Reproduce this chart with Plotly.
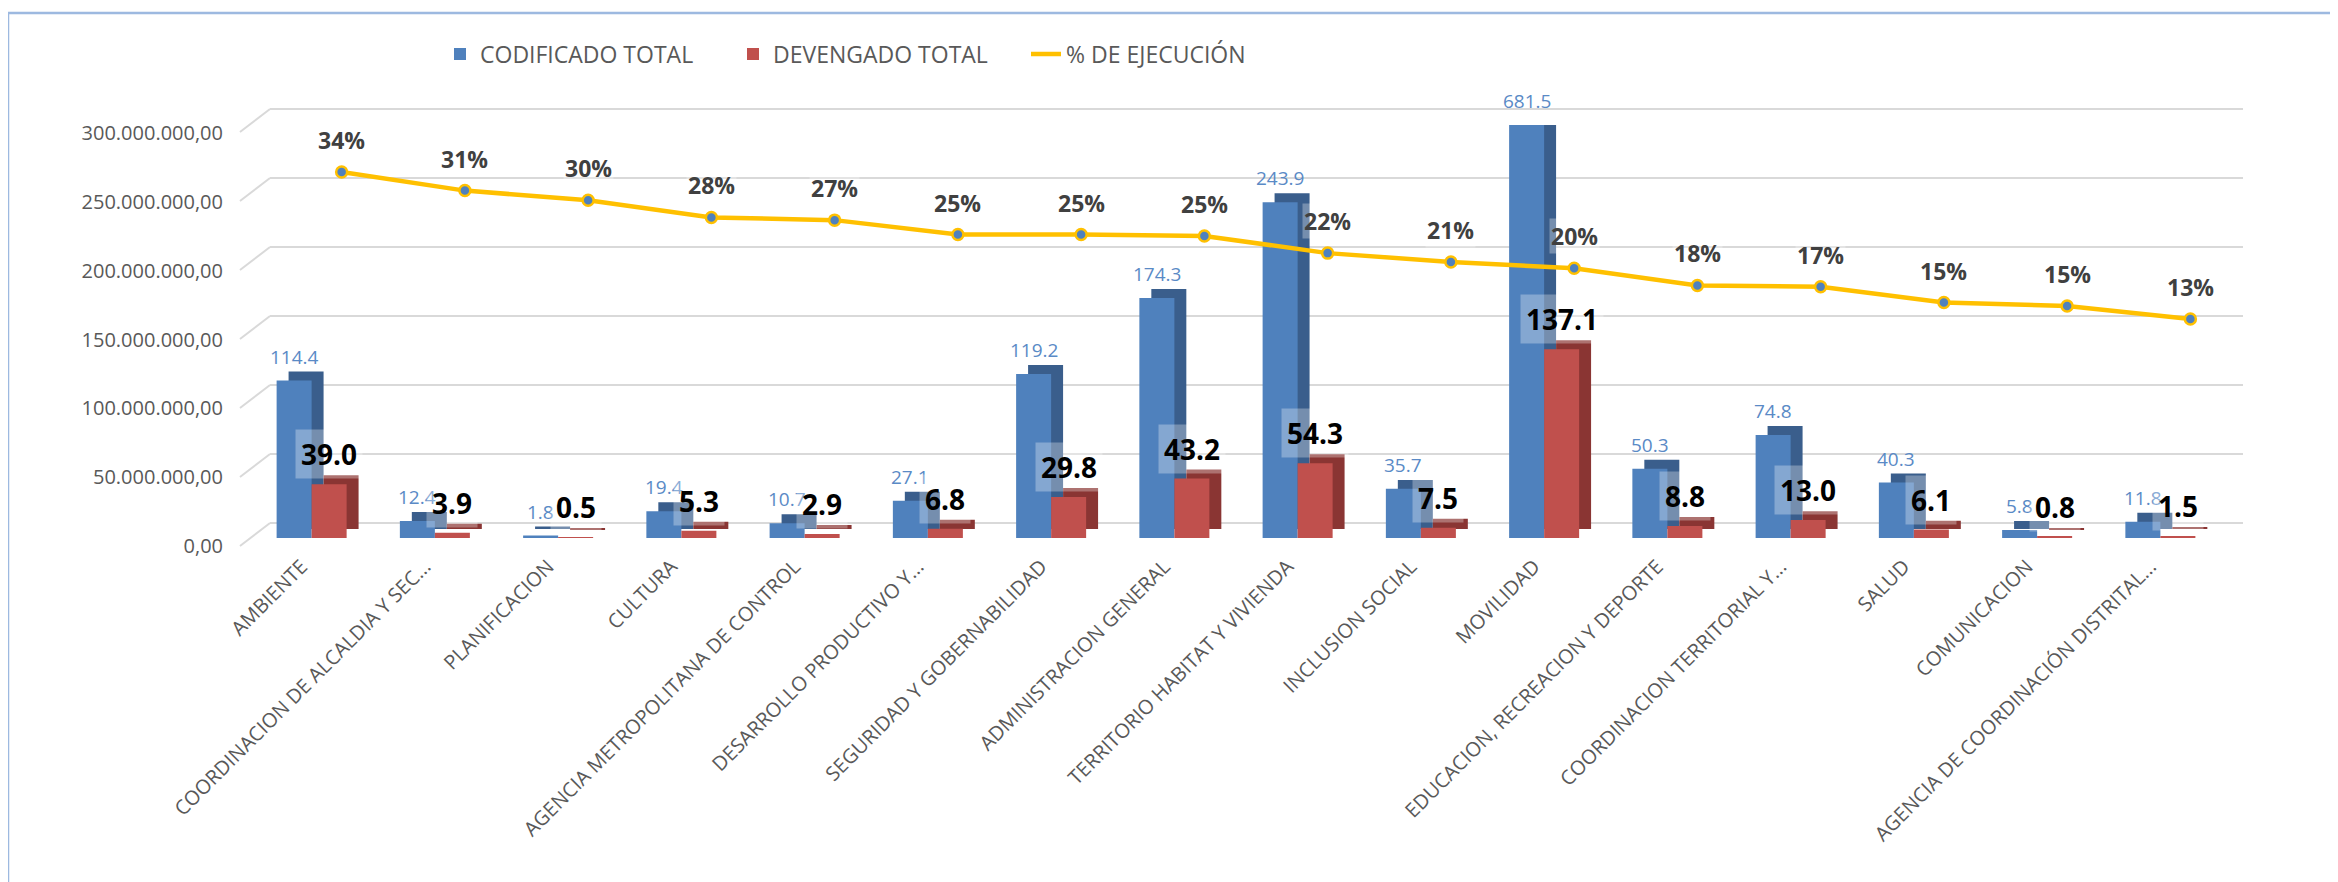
import plotly.graph_objects as go

# categories and values (millions)
categories = [
    "AMBIENTE",
    "COORDINACION DE ALCALDIA Y SEC...",
    "PLANIFICACION",
    "CULTURA",
    "AGENCIA METROPOLITANA DE CONTROL",
    "DESARROLLO PRODUCTIVO Y...",
    "SEGURIDAD Y GOBERNABILIDAD",
    "ADMINISTRACION GENERAL",
    "TERRITORIO HABITAT Y VIVIENDA",
    "INCLUSION SOCIAL",
    "MOVILIDAD",
    "EDUCACION, RECREACION Y DEPORTE",
    "COORDINACION TERRITORIAL Y...",
    "SALUD",
    "COMUNICACION",
    "AGENCIA DE COORDINACIÓN DISTRITAL...",
]
codificado = [114.4, 12.4, 1.8, 19.4, 10.7, 27.1, 119.2, 174.3, 243.9, 35.7, 681.5, 50.3, 74.8, 40.3, 5.8, 11.8]
devengado = [39.0, 3.9, 0.5, 5.3, 2.9, 6.8, 29.8, 43.2, 54.3, 7.5, 137.1, 8.8, 13.0, 6.1, 0.8, 1.5]
ejecucion = [0.341, 0.314, 0.30, 0.275, 0.271, 0.25, 0.25, 0.248, 0.223, 0.21, 0.201, 0.176, 0.174, 0.151, 0.146, 0.127]
y_ticks = [0, 50e6, 100e6, 150e6, 200e6, 250e6, 300e6]

W, H = 2338, 882
FONT = "Open Sans"
BLUE, BLUE_D = "#4F81BD", "#3A5E8C"
RED, RED_D = "#C0504D", "#8A3533"
GOLD = "#FFC000"
Y_MAX = 300e6
PAGE = 8        # body margin of the html page

idx = list(range(len(categories)))
cod = [v * 1e6 for v in codificado]
dev = [v * 1e6 for v in devengado]

bw = 0.284      # bar width (category units)
dx = 0.097      # fake 3d depth, x
dy = 6.5e6      # fake 3d depth, y
line_shift = 0.2435


def px_x(p):
    return (p - PAGE) / W


def px_y(p):
    return 1 - (p - PAGE) / H


fig = go.Figure()

# back wall gridlines live on their own (empty) subplot
fig.add_trace(go.Scatter(x=[None], y=[None], xaxis="x", yaxis="y",
                         showlegend=False, hoverinfo="skip"))

# depth faces then front faces
fig.add_trace(go.Bar(x=idx, y=cod, base=dy, offset=-bw + dx, width=bw,
                     marker=dict(color=BLUE_D, line=dict(width=0)),
                     xaxis="x2", yaxis="y2", showlegend=False, hoverinfo="skip"))
fig.add_trace(go.Bar(x=idx, y=cod, offset=-bw, width=bw, name="CODIFICADO TOTAL",
                     marker=dict(color=BLUE, line=dict(width=0)),
                     xaxis="x2", yaxis="y2"))
fig.add_trace(go.Bar(x=idx, y=dev, base=dy, offset=dx, width=bw,
                     marker=dict(color=RED_D, line=dict(width=0)),
                     xaxis="x2", yaxis="y2", showlegend=False, hoverinfo="skip"))
fig.add_trace(go.Bar(x=idx, y=dev, offset=0, width=bw, name="DEVENGADO TOTAL",
                     marker=dict(color=RED, line=dict(width=0)),
                     xaxis="x2", yaxis="y2"))

fig.add_trace(go.Scatter(x=idx, y=ejecucion, mode="lines+markers",
                         line=dict(color=GOLD, width=4.5),
                         marker=dict(size=11, color=BLUE, line=dict(color=GOLD, width=2.5)),
                         xaxis="x3", yaxis="y3", showlegend=False))
# legend entry for the line (line only)
fig.add_trace(go.Scatter(x=[None], y=[None], mode="lines", name="% DE EJECUCIÓN",
                         line=dict(color=GOLD, width=4.5), xaxis="x3", yaxis="y3"))

ann = []
for i in idx:
    ann.append(dict(x=i - bw / 2, y=min(cod[i], Y_MAX), xref="x2", yref="y2",
                    text=f"{codificado[i]:.1f}", showarrow=False, yshift=24,
                    font=dict(family=FONT, size=19, color="#5A8AC6")))
for i in idx:
    ann.append(dict(x=i + bw / 2, y=dev[i], xref="x2", yref="y2",
                    text=f"<b>{devengado[i]:.1f}</b>", showarrow=False, yshift=30,
                    bgcolor="rgba(255,255,255,0.3)", borderpad=5,
                    font=dict(family=FONT, size=28, color="#000000")))
for i in idx:
    ann.append(dict(x=i, y=ejecucion[i], xref="x3", yref="y3",
                    text=f"<b>{round(ejecucion[i] * 100):.0f}%</b>", showarrow=False, yshift=32,
                    bgcolor="rgba(255,255,255,0.3)",
                    font=dict(family=FONT, size=23, color="#404040")))

shapes = []
# chart frame (cut off at right / bottom like the source)
shapes.append(dict(type="rect", xref="paper", yref="paper",
                   x0=px_x(8), x1=1.05, y0=-0.05, y1=px_y(13),
                   line=dict(color="#9DB9E0", width=2.5)))
# left floor diagonals
for v in y_ticks:
    shapes.append(dict(type="line", xref="paper", yref="y", ysizemode="pixel", yanchor=v,
                       x0=px_x(270), x1=px_x(240), y0=0, y1=-23,
                       line=dict(color="#D9D9D9", width=2), layer="below"))

fig.update_layout(
    template="none",
    width=W, height=H,
    margin=dict(l=0, r=0, t=0, b=0, pad=0),
    paper_bgcolor="white", plot_bgcolor="rgba(0,0,0,0)",
    barmode="overlay",
    separators=",.",
    font=dict(family=FONT, color="#595959"),
    showlegend=True,
    legend=dict(orientation="h", x=px_x(440), y=px_y(54), xanchor="left", yanchor="middle",
                font=dict(family=FONT, size=23, color="#595959"),
                entrywidth=248, traceorder="normal", bgcolor="rgba(0,0,0,0)"),
    xaxis=dict(domain=[px_x(270), px_x(2243)], range=[0, 1], visible=False, anchor="y",
               automargin=False),
    yaxis=dict(domain=[px_y(560), px_y(100)], range=[-26.81e6, 306.52e6], anchor="x",
               tickvals=y_ticks, showticklabels=False, showgrid=True, automargin=False,
               gridcolor="#D9D9D9", gridwidth=2, zeroline=False, ticks="", showline=False),
    xaxis2=dict(domain=[px_x(250), px_x(2222)], range=[-0.5, 15.5], anchor="y2",
                tickvals=idx, ticktext=categories, tickangle=-45, automargin=False,
                tickfont=dict(family=FONT, size=20, color="#595959"),
                showgrid=False, zeroline=False, showline=False, ticks="",
                ticklabelstandoff=12, ticklabelshift=-10),
    yaxis2=dict(domain=[px_y(538), px_y(125)], range=[0, Y_MAX], anchor="x2",
                tickvals=y_ticks, tickformat=",.2f", automargin=False,
                tickfont=dict(family=FONT, size=20, color="#595959"),
                showgrid=False, zeroline=False, showline=False, ticks="",
                ticklabelstandoff=26, ticklabelshift=8),
    xaxis3=dict(overlaying="x2", anchor="y3", range=[-0.5 - line_shift, 15.5 - line_shift],
                visible=False, automargin=False),
    yaxis3=dict(overlaying="y2", anchor="x3", range=[-0.1917, 0.4095], visible=False,
                automargin=False),
    annotations=ann,
    shapes=shapes,
)

fig.write_html("out.html")
